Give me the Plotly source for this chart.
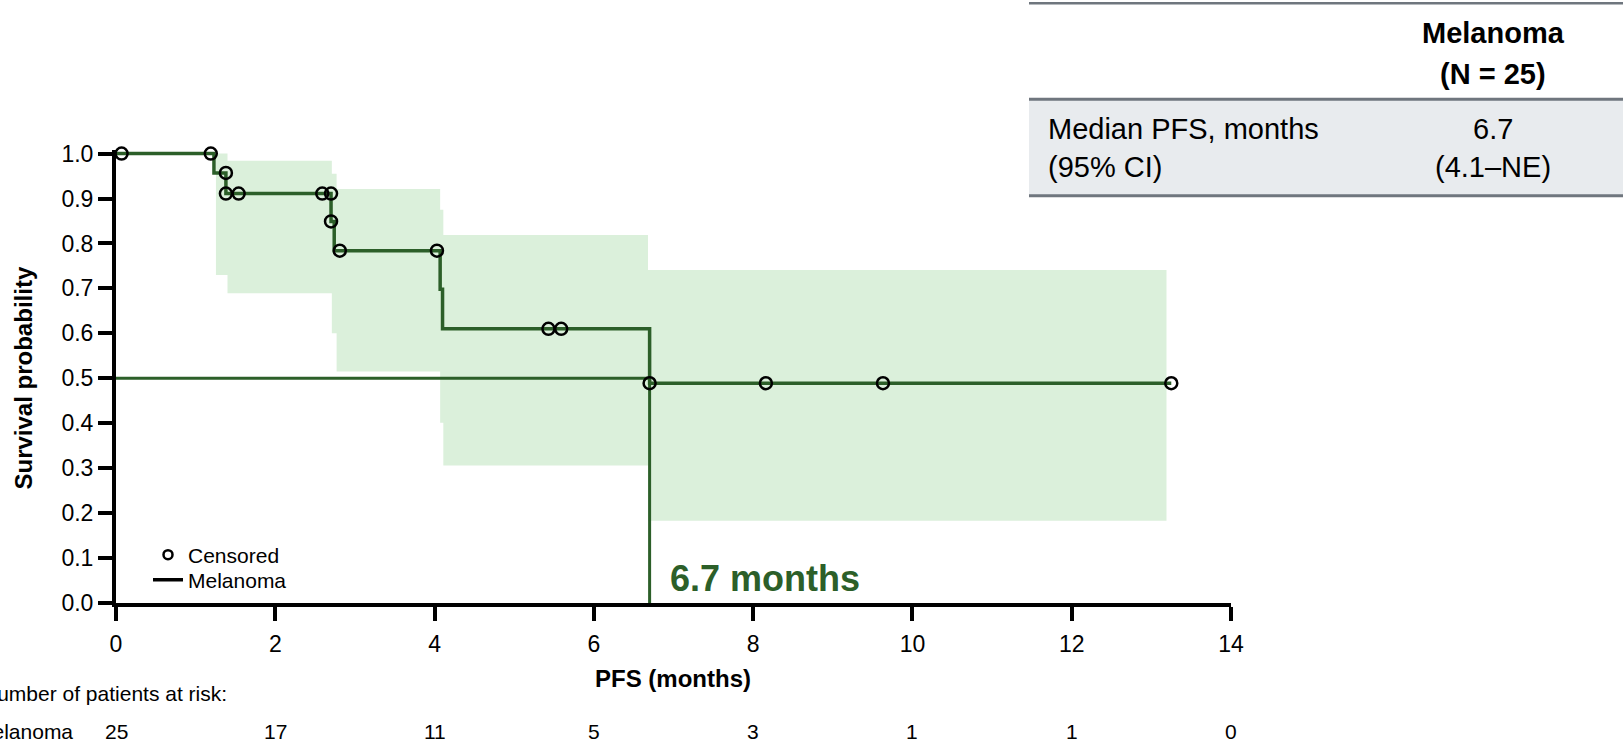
import plotly.graph_objects as go

# ---------------- data ----------------
step_t = [0, 1.23, 1.38, 2.70, 2.74, 4.07, 4.10, 6.70, 13.25]
step_s = [1.0, 0.957, 0.911, 0.849, 0.784, 0.698, 0.610, 0.489, 0.489]

cens_t = [0.07, 1.19, 1.38, 1.38, 1.54, 2.59, 2.70, 2.70, 2.81, 4.03, 5.43, 5.59, 6.70, 8.16, 9.63, 13.25]
cens_s = [1.0, 1.0, 0.957, 0.911, 0.911, 0.911, 0.911, 0.849, 0.784, 0.784, 0.610, 0.610, 0.489, 0.489, 0.489, 0.489]

ci_t = [1.255, 1.40, 2.71, 2.77, 4.07, 4.11, 6.68, 13.19]
ci_lo = [0.730, 0.689, 0.600, 0.515, 0.401, 0.306, 0.183, 0.183]
ci_hi = [1.000, 0.984, 0.955, 0.921, 0.875, 0.819, 0.741, 0.741]

median_pfs = 6.7
median_level = 0.5

x_ticks = [0, 2, 4, 6, 8, 10, 12, 14]
y_ticks = [0.0, 0.1, 0.2, 0.3, 0.4, 0.5, 0.6, 0.7, 0.8, 0.9, 1.0]
at_risk = [25, 17, 11, 5, 3, 1, 1, 0]

table_header = ["<b>Melanoma</b>", "<b>(N = 25)</b>"]
table_row_label = ["Median PFS, months", "(95% CI)"]
table_row_value = ["6.7", "(4.1–NE)"]

# ---------------- style ----------------
FONT = "Liberation Sans, Arial, sans-serif"
GREEN = "#2c5f29"
BAND = "#dbf0db"
W, H = 1623, 740
L, R, T, B = 116, 392, 150, 137
pw, ph = W - L - R, H - T - B


def px_x(px):
    return (px - L) / pw


def px_y(py):
    return (H - B - py) / ph


fig = go.Figure()

# confidence band
fig.add_trace(go.Scatter(x=ci_t, y=ci_lo, mode="lines", line=dict(width=0, shape="hv"),
                         showlegend=False, hoverinfo="skip"))
fig.add_trace(go.Scatter(x=ci_t, y=ci_hi, mode="lines", line=dict(width=0, shape="hv"),
                         fill="tonexty", fillcolor=BAND, showlegend=False, hoverinfo="skip"))

# median guide lines
fig.add_trace(go.Scatter(x=[0, median_pfs, median_pfs], y=[median_level, median_level, 0],
                         mode="lines", line=dict(color=GREEN, width=3), showlegend=False,
                         hoverinfo="skip"))

# KM step curve
fig.add_trace(go.Scatter(x=step_t, y=step_s, mode="lines",
                         line=dict(color=GREEN, width=3.5, shape="hv"), showlegend=False))

# censored marks
fig.add_trace(go.Scatter(x=cens_t, y=cens_s, mode="markers", cliponaxis=False,
                         marker=dict(symbol="circle-open", size=12, color="black",
                                     line=dict(width=2.5, color="black")),
                         showlegend=False))

# legend entries (one legend each, for exact placement)
fig.add_trace(go.Scatter(x=[None], y=[None], mode="markers", name="Censored", legend="legend",
                         marker=dict(symbol="circle-open", size=9, color="black",
                                     line=dict(width=2.5, color="black"))))
fig.add_trace(go.Scatter(x=[None], y=[None], mode="lines", name="Melanoma", legend="legend2",
                         line=dict(color="black", width=3.5)))

annotations = []
# median label
annotations.append(dict(x=median_pfs, xref="x", y=px_y(578), yref="paper", xanchor="left",
                        yanchor="middle", xshift=18, showarrow=False,
                        text="<b>6.7 months</b>", font=dict(size=36, color=GREEN, family=FONT)))
# axis titles
annotations.append(dict(x=px_x(23), xref="paper", y=px_y(378.5), yref="paper", textangle=-90,
                        xanchor="center", yanchor="middle", showarrow=False,
                        text="<b>Survival probability</b>", font=dict(size=24, color="black", family=FONT)))
annotations.append(dict(x=px_x(673), xref="paper", y=px_y(678), yref="paper",
                        xanchor="center", yanchor="middle", showarrow=False,
                        text="<b>PFS (months)</b>", font=dict(size=24, color="black", family=FONT)))
# risk table
annotations.append(dict(x=px_x(-20), xref="paper", y=px_y(693), yref="paper",
                        xanchor="left", yanchor="middle", showarrow=False,
                        text="Number of patients at risk:", font=dict(size=21, color="black", family=FONT)))
annotations.append(dict(x=px_x(75), xref="paper", y=px_y(731), yref="paper",
                        xanchor="right", yanchor="middle", showarrow=False,
                        text="Melanoma", font=dict(size=21, color="black", family=FONT)))
for xv, n in zip(x_ticks, at_risk):
    annotations.append(dict(x=xv, xref="x", y=px_y(731), yref="paper", xanchor="center",
                            yanchor="middle", showarrow=False, text=str(n),
                            font=dict(size=21, color="black", family=FONT)))
# summary table text
for txt, yy in zip(table_header, [33, 74.5]):
    annotations.append(dict(x=px_x(1493), xref="paper", y=px_y(yy), yref="paper",
                            xanchor="center", yanchor="middle", showarrow=False, text=txt,
                            font=dict(size=29, color="black", family=FONT)))
for txt, yy in zip(table_row_label, [129, 167]):
    annotations.append(dict(x=px_x(1046), xref="paper", y=px_y(yy), yref="paper",
                            xanchor="left", yanchor="middle", showarrow=False, text=txt,
                            font=dict(size=29, color="black", family=FONT)))
for txt, yy in zip(table_row_value, [129, 167]):
    annotations.append(dict(x=px_x(1493), xref="paper", y=px_y(yy), yref="paper",
                            xanchor="center", yanchor="middle", showarrow=False, text=txt,
                            font=dict(size=29, color="black", family=FONT)))

TLINE = "#6f767e"
shapes = [
    dict(type="rect", xref="paper", yref="paper", x0=px_x(1029), x1=px_x(1623),
         y0=px_y(99.3), y1=px_y(195.7), fillcolor="#e8ebee", line=dict(width=0), layer="below"),
    dict(type="line", xref="paper", yref="paper", x0=px_x(1029), x1=px_x(1623),
         y0=px_y(3.3), y1=px_y(3.3), line=dict(color=TLINE, width=2.5)),
    dict(type="line", xref="paper", yref="paper", x0=px_x(1029), x1=px_x(1623),
         y0=px_y(99.3), y1=px_y(99.3), line=dict(color=TLINE, width=3)),
    dict(type="line", xref="paper", yref="paper", x0=px_x(1029), x1=px_x(1623),
         y0=px_y(195.7), y1=px_y(195.7), line=dict(color=TLINE, width=3)),
]

legend_common = dict(xanchor="left", yanchor="middle", bgcolor="rgba(0,0,0,0)",
                     font=dict(size=21, family=FONT, color="black"), itemwidth=30)

fig.update_layout(
    width=W, height=H,
    margin=dict(l=L, r=R, t=T, b=B, autoexpand=False),
    paper_bgcolor="white", plot_bgcolor="white",
    font=dict(family=FONT, color="black"),
    showlegend=True,
    legend=dict(x=px_x(148), y=px_y(555), **legend_common),
    legend2=dict(x=px_x(148), y=px_y(580), **legend_common),
    xaxis=dict(range=[0, 14], tickvals=x_ticks, showgrid=False, zeroline=False,
               showline=True, linecolor="black", linewidth=4, ticks="outside",
               ticklen=14, tickwidth=3.5, tickcolor="black", ticklabelstandoff=3,
               tickfont=dict(size=23, family=FONT), automargin=False),
    yaxis=dict(range=[0, 1.008], tickvals=y_ticks, tickformat=".1f", showgrid=False,
               zeroline=False, showline=True, linecolor="black", linewidth=4,
               ticks="outside", ticklen=14, tickwidth=3.5, tickcolor="black",
               tickfont=dict(size=23, family=FONT), automargin=False),
    annotations=annotations,
    shapes=shapes,
)

fig.write_html("out.html", config=dict(displayModeBar=False),
               post_script="document.body.style.margin='0';document.body.style.overflow='hidden';")
